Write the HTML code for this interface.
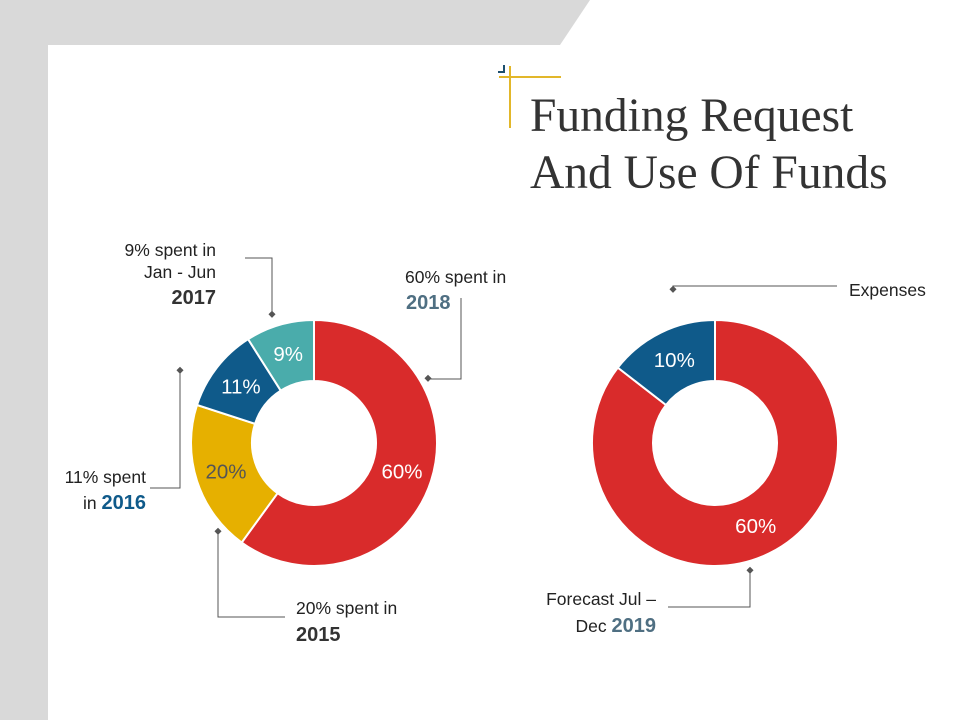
<!DOCTYPE html>
<html><head><meta charset="utf-8"><style>
html,body{margin:0;padding:0;background:#fff}
svg{display:block;font-family:"Liberation Sans",sans-serif}
</style></head><body>
<svg width="960" height="720" viewBox="0 0 960 720">
<polygon points="0,0 590,0 560,45 48,45 48,720 0,720" fill="#d9d9d9"/>
<g>
<line x1="510" y1="66" x2="510" y2="128" stroke="#e2b72a" stroke-width="2"/>
<line x1="499" y1="77" x2="561" y2="77" stroke="#e2b72a" stroke-width="2"/>
<polyline points="498,72 504,72 504,65" fill="none" stroke="#1d4f6e" stroke-width="2"/>
</g>
<text x="530" y="131" font-family="Liberation Serif,serif" font-size="47.5" fill="#333">Funding Request</text>
<text x="530" y="188" font-family="Liberation Serif,serif" font-size="47.5" fill="#333">And Use Of Funds</text>
<g id="charts"></g>
<g fill="none" stroke="#555" stroke-width="1">
<polyline points="428,379 461,379 461,298"/>
<polyline points="272,315 272,258 245,258"/>
<polyline points="180,371 180,488 150,488"/>
<polyline points="218,532 218,617 285,617"/>
<polyline points="673,290 673,286 837,286"/>
<polyline points="750,571 750,607 668,607"/>
</g>
<g fill="#555">
<rect x="425" y="376" width="5" height="5" transform="rotate(45 428 379)"/>
<rect x="269" y="312" width="5" height="5" transform="rotate(45 272 315)"/>
<rect x="177" y="368" width="5" height="5" transform="rotate(45 180 371)"/>
<rect x="215" y="529" width="5" height="5" transform="rotate(45 218 532)"/>
<rect x="670" y="287" width="5" height="5" transform="rotate(45 673 290)"/>
<rect x="747" y="568" width="5" height="5" transform="rotate(45 750 571)"/>
</g>
<g font-size="17.5" fill="#222">
<g><text x="405" y="283">60% spent in</text><text x="406" y="309" font-size="20" font-weight="bold" fill="#4f6f82">2018</text></g>
<g text-anchor="end"><text x="216" y="256">9% spent in</text><text x="216" y="278">Jan - Jun</text><text x="216" y="304" font-size="20" font-weight="bold" fill="#333">2017</text></g>
<g text-anchor="end"><text x="146" y="483">11% spent</text><text x="146" y="509"><tspan>in </tspan><tspan font-size="20" font-weight="bold" fill="#0f5a8a">2016</tspan></text></g>
<g><text x="296" y="614">20% spent in</text><text x="296" y="641" font-size="20" font-weight="bold" fill="#333">2015</text></g>
<text x="849" y="296">Expenses</text>
<g text-anchor="end"><text x="656" y="605">Forecast Jul –</text><text x="656" y="632"><tspan>Dec </tspan><tspan font-size="20" font-weight="bold" fill="#4f6f82">2019</tspan></text></g>
</g>
</svg>
<script>
const c1Categories=['2018','2015','2016','2017'];
const c1Values=[60,20,11,9];
const c1Labels=['60%','20%','11%','9%'];
const c2Categories=['Forecast','Expenses'];
const c2Values=[85.5,14.5];
const c2Labels=['60%','10%'];
const NS='http://www.w3.org/2000/svg';
const g=document.getElementById('charts');
function pt(cx,cy,r,a){const t=a*Math.PI/180;return [cx+r*Math.sin(t),cy-r*Math.cos(t)];}
function donut(vals,labels,cats,colors,cx,cy,ro,ri,name){
  const tot=vals.reduce((a,b)=>a+b,0);let acc=0;
  vals.forEach((v,i)=>{
    const a0=acc/tot*360,a1=(acc+v)/tot*360;acc+=v;
    const large=(a1-a0)>180?1:0;
    const p0=pt(cx,cy,ro,a0),p1=pt(cx,cy,ro,a1),q1=pt(cx,cy,ri,a1),q0=pt(cx,cy,ri,a0);
    const p=document.createElementNS(NS,'path');
    p.setAttribute('d',`M${p0[0]},${p0[1]}A${ro},${ro} 0 ${large} 1 ${p1[0]},${p1[1]}L${q1[0]},${q1[1]}A${ri},${ri} 0 ${large} 0 ${q0[0]},${q0[1]}Z`);
    p.setAttribute('fill',colors[i]);p.setAttribute('stroke','#fff');p.setAttribute('stroke-width','2');
    
    
    g.appendChild(p);
    const m=pt(cx,cy,(ro+ri)/2,(a0+a1)/2);
    const t=document.createElementNS(NS,'text');
    t.setAttribute('x',m[0]);t.setAttribute('y',m[1]+7);t.setAttribute('text-anchor','middle');
    t.setAttribute('font-size','20.5');t.setAttribute('fill',colors[i]==='#e6b000'?'#555':'#fff');
    t.textContent=labels[i];
    
    
    g.appendChild(t);
  });
}
donut(c1Values,c1Labels,c1Categories,['#d92b2b','#e6b000','#0f5a8a','#4aacab'],314,443,123,62,'chart1');
donut(c2Values,c2Labels,c2Categories,['#d92b2b','#0f5a8a'],715,443,123,62,'chart2');
</script>
</body></html>
